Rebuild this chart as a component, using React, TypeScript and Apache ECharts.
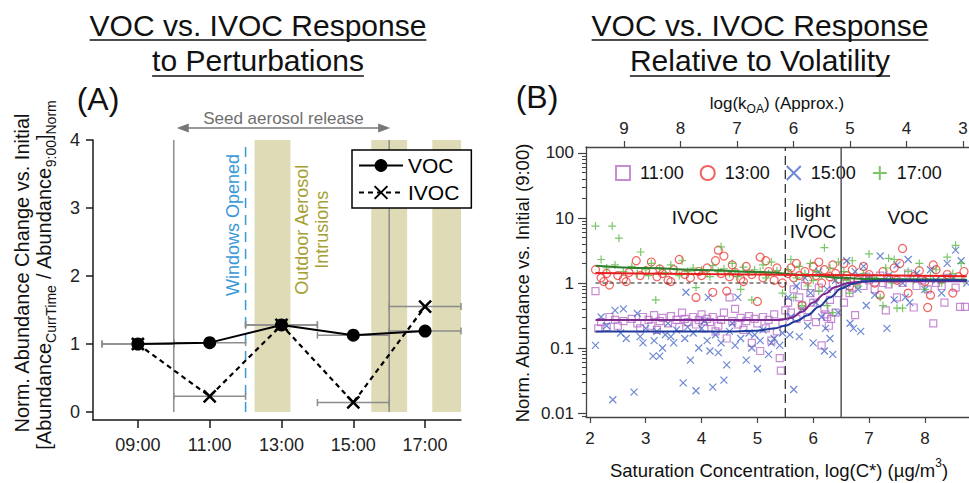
import React, { useEffect, useRef } from 'react';
import * as echarts from 'echarts';

const FONT = '"Liberation Sans", Arial, Helvetica, sans-serif';

// ---------------- Panel A data ----------------
const timesA = [9, 11, 13, 15, 17];
const timeLabelsA = ['09:00', '11:00', '13:00', '15:00', '17:00'];
const vocA = [1.0, 1.02, 1.28, 1.13, 1.19];
const ivocA = [1.0, 0.23, 1.28, 0.14, 1.55];
const timeErrA = [1, 1, 1, 1, 1];
const yTicksA = [0, 1, 2, 3, 4];
const intrusionBandsA = [[12.25, 13.25], [15.5, 16.5], [17.2, 18]];
const seedReleaseA = [10, 16];
const windowsOpenedA = 12;

// ---------------- Panel B data ----------------
const cTicksB = [2, 3, 4, 5, 6, 7, 8];
const koaTicksB = [3, 4, 5, 6, 7, 8, 9];
const yTicksB = [0.01, 0.1, 1, 10, 100];
const lightIvocEdgeB = 5.5;
const vocEdgeB = 6.5;
const unityLineB = [[2.1, 1], [5.5, 1]];

const pts1100 = [
  [2.1, 0.75], [2.15, 0.2], [2.2, 0.25], [2.3, 0.21], [2.35, 0.3], [2.45, 0.27], [2.5, 0.22], [2.6, 0.26], [2.75, 0.28], [2.85, 0.24],
  [2.9, 0.2], [2.95, 0.3], [3.05, 0.27], [3.1, 0.22], [3.15, 0.32], [3.2, 0.19], [3.25, 0.26], [3.3, 0.29], [3.4, 0.24], [3.45, 0.31],
  [3.55, 0.27], [3.6, 0.21], [3.65, 0.35], [3.7, 0.28], [3.75, 0.25], [3.85, 0.3], [3.9, 0.23], [3.95, 0.27], [4.0, 0.33], [4.05, 0.2],
  [4.1, 0.28], [4.15, 0.25], [4.2, 0.3], [4.25, 0.18], [4.3, 0.22], [4.35, 0.27], [4.4, 0.35], [4.45, 0.14], [4.5, 0.6], [4.55, 0.26],
  [4.6, 0.4], [4.65, 0.23], [4.7, 0.29], [4.75, 0.19], [4.8, 0.26], [4.85, 0.31], [4.9, 0.12], [4.95, 0.28], [5.0, 0.24], [5.05, 0.09],
  [5.1, 0.3], [5.15, 0.2], [5.2, 0.27], [5.25, 0.13], [5.3, 0.33], [5.35, 0.18], [5.4, 0.07], [5.42, 0.045], [5.45, 0.25], [5.5, 0.38],
  [5.55, 0.5], [5.6, 0.35], [5.65, 0.8], [5.7, 0.28], [5.75, 0.6], [5.8, 0.45], [5.85, 0.9], [5.9, 0.3], [5.95, 0.7], [6.0, 0.5],
  [6.05, 0.25], [6.1, 0.85], [6.15, 0.11], [6.2, 0.4], [6.22, 0.33], [6.25, 0.3], [6.28, 0.22], [6.3, 0.55], [6.32, 0.28], [6.35, 0.95],
  [6.4, 0.35], [6.45, 0.7], [6.55, 0.5], [6.6, 1.0], [6.65, 0.7], [6.7, 0.85], [6.75, 0.32], [6.8, 1.2], [6.9, 0.9], [6.95, 1.25],
  [7.0, 1.1], [7.1, 0.8], [7.2, 1.3], [7.25, 1.0], [7.3, 0.38], [7.35, 0.95], [7.45, 1.15], [7.5, 0.6], [7.6, 1.0], [7.7, 1.4],
  [7.8, 0.42], [7.85, 0.9], [7.95, 1.1], [8.05, 0.8], [8.15, 0.24], [8.2, 1.0], [8.3, 0.9], [8.35, 0.5], [8.4, 1.2], [8.55, 0.85],
  [8.63, 0.43], [8.72, 0.43],
];

const pts1300 = [
  [2.1, 1.6], [2.2, 1.2], [2.25, 1.05], [2.3, 1.4], [2.35, 0.93], [2.5, 1.3], [2.6, 1.15], [2.65, 1.05], [2.7, 1.45], [2.83, 2.2],
  [2.9, 1.3], [3.0, 1.55], [3.1, 2.1], [3.2, 1.25], [3.25, 1.65], [3.3, 1.4], [3.4, 1.1], [3.45, 1.05], [3.5, 1.6], [3.6, 2.3],
  [3.7, 1.35], [3.8, 1.2], [3.9, 0.6], [3.95, 1.5], [4.0, 1.3], [4.1, 1.7], [4.2, 0.72], [4.25, 2.2], [4.3, 3.2], [4.35, 1.4],
  [4.4, 2.6], [4.45, 0.75], [4.5, 1.25], [4.55, 1.9], [4.6, 1.45], [4.7, 1.15], [4.75, 1.05], [4.8, 1.8], [4.9, 1.35], [5.0, 0.52],
  [5.05, 2.5], [5.1, 1.2], [5.15, 2.2], [5.2, 1.5], [5.3, 1.1], [5.35, 1.7], [5.45, 1.0], [5.55, 1.4], [5.6, 1.7], [5.65, 1.2],
  [5.7, 2.0], [5.75, 1.3], [5.8, 0.45], [5.85, 1.5], [5.9, 1.1], [6.0, 1.8], [6.05, 1.3], [6.1, 2.1], [6.15, 1.0], [6.2, 1.6],
  [6.3, 1.25], [6.35, 1.9], [6.4, 1.4], [6.45, 1.15], [6.55, 2.0], [6.6, 1.3], [6.65, 0.9], [6.7, 1.6], [6.8, 1.1], [6.9, 1.8],
  [7.0, 1.35], [7.1, 1.0], [7.2, 0.65], [7.25, 1.5], [7.35, 1.2], [7.45, 1.7], [7.5, 1.1], [7.55, 2.0], [7.6, 3.4], [7.7, 0.7],
  [7.8, 1.25], [7.9, 1.55], [8.0, 1.05], [8.05, 0.42], [8.1, 0.65], [8.15, 1.9], [8.2, 1.6], [8.3, 1.15], [8.4, 1.35], [8.5, 0.7],
  [8.6, 1.25], [8.7, 1.5],
];

const pts1500 = [
  [2.1, 0.11], [2.2, 0.3], [2.3, 0.22], [2.41, 0.016], [2.45, 0.38], [2.55, 0.17], [2.6, 0.4], [2.65, 0.14], [2.79, 0.021], [2.85, 0.34],
  [2.9, 0.15], [2.95, 0.12], [3.0, 0.2], [3.13, 0.075], [3.15, 0.13], [3.2, 0.18], [3.25, 0.075], [3.3, 0.1], [3.35, 0.16], [3.4, 0.24],
  [3.45, 0.15], [3.5, 0.12], [3.55, 0.19], [3.67, 0.029], [3.7, 0.14], [3.72, 0.72], [3.75, 0.21], [3.8, 0.065], [3.85, 0.17], [3.9, 0.022],
  [3.95, 0.1], [4.0, 0.2], [4.05, 0.26], [4.1, 0.13], [4.12, 0.6], [4.15, 0.09], [4.2, 0.025], [4.25, 0.16], [4.3, 0.085], [4.35, 0.12],
  [4.4, 0.032], [4.45, 0.055], [4.5, 0.18], [4.55, 0.24], [4.6, 0.11], [4.65, 0.6], [4.7, 0.14], [4.8, 0.065], [4.85, 0.17], [4.9, 0.1],
  [4.95, 0.16], [5.0, 0.048], [5.05, 0.13], [5.1, 0.19], [5.2, 0.08], [5.25, 0.12], [5.3, 0.14], [5.4, 0.11], [5.45, 0.17], [5.55, 0.6],
  [5.58, 0.16], [5.6, 0.3], [5.65, 0.023], [5.7, 0.9], [5.75, 0.15], [5.8, 0.4], [5.85, 1.2], [5.9, 0.22], [5.95, 0.7], [6.0, 0.12],
  [6.05, 0.5], [6.1, 1.5], [6.15, 0.3], [6.2, 0.09], [6.22, 0.2], [6.25, 0.8], [6.3, 0.14], [6.35, 0.08], [6.4, 1.1], [6.45, 0.35],
  [6.55, 0.9], [6.6, 2.2], [6.66, 0.24], [6.72, 0.2], [6.75, 1.5], [6.8, 0.8], [6.85, 0.18], [6.9, 1.8], [6.95, 0.45], [7.0, 1.2],
  [7.1, 0.65], [7.2, 2.6], [7.32, 0.2], [7.35, 1.3], [7.45, 0.55], [7.5, 1.9], [7.6, 1.0], [7.65, 0.6], [7.7, 2.3], [7.73, 0.5],
  [7.85, 1.4], [8.0, 0.8], [8.1, 1.6], [8.2, 1.1], [8.3, 0.7], [8.4, 2.0], [8.5, 1.2], [8.55, 3.2], [8.65, 2.2], [8.75, 1.0],
];

const pts1700 = [
  [2.1, 7.5], [2.2, 2.3], [2.3, 1.7], [2.4, 7.5], [2.45, 1.9], [2.52, 4.9], [2.6, 1.5], [2.75, 1.8], [2.85, 1.4], [2.91, 3.0],
  [3.0, 1.6], [3.05, 1.3], [3.1, 2.0], [3.18, 0.55], [3.25, 1.7], [3.35, 1.45], [3.45, 1.9], [3.55, 1.6], [3.6, 1.3], [3.65, 2.2],
  [3.75, 1.5], [3.85, 1.7], [3.9, 0.85], [4.0, 1.6], [4.1, 1.4], [4.15, 1.25], [4.2, 1.85], [4.3, 1.5], [4.35, 3.6], [4.4, 1.65],
  [4.5, 1.4], [4.55, 2.0], [4.6, 1.55], [4.65, 1.25], [4.7, 0.8], [4.75, 1.75], [4.85, 1.45], [4.9, 0.55], [4.95, 1.6], [5.05, 1.5],
  [5.1, 1.9], [5.15, 1.2], [5.2, 1.4], [5.25, 2.1], [5.35, 1.55], [5.45, 0.7], [5.55, 1.6], [5.6, 2.3], [5.65, 0.6], [5.7, 1.2],
  [5.75, 1.8], [5.8, 0.45], [5.85, 1.4], [5.9, 0.9], [5.95, 2.0], [6.0, 1.1], [6.05, 1.5], [6.1, 0.75], [6.15, 1.3], [6.2, 3.5],
  [6.25, 0.45], [6.3, 1.7], [6.35, 0.35], [6.4, 1.2], [6.45, 2.1], [6.55, 1.5], [6.6, 1.1], [6.65, 0.7], [6.7, 2.2], [6.8, 0.9],
  [6.9, 1.4], [7.0, 2.8], [7.1, 1.2], [7.2, 0.6], [7.25, 0.45], [7.3, 1.7], [7.35, 2.4], [7.4, 1.0], [7.45, 2.3], [7.5, 0.41],
  [7.6, 0.41], [7.7, 1.5], [7.8, 1.1], [7.9, 2.0], [8.0, 0.8], [8.1, 1.3], [8.2, 1.6], [8.3, 1.0], [8.4, 2.5], [8.5, 1.4],
  [8.55, 3.8], [8.65, 2.0], [8.7, 1.1],
];

const fit1100 = [[2.1, 0.27], [5.4, 0.27], [5.6, 0.29], [5.8, 0.36], [6.0, 0.5], [6.2, 0.68], [6.4, 0.87], [6.6, 0.99], [6.8, 1.04], [7.2, 1.06], [8.75, 1.06]];
const fit1300 = [[2.1, 1.42], [4.0, 1.38], [6.0, 1.33], [8.75, 1.27]];
const fit1500 = [[2.1, 0.18], [4.6, 0.18], [5.0, 0.185], [5.3, 0.2], [5.5, 0.22], [5.7, 0.26], [5.9, 0.32], [6.1, 0.43], [6.3, 0.6], [6.5, 0.82], [6.7, 0.97], [6.9, 1.06], [7.3, 1.1], [8.75, 1.1]];
const fit1700 = [[2.1, 1.85], [3.0, 1.7], [4.0, 1.58], [5.0, 1.48], [6.0, 1.3], [6.5, 1.2], [7.0, 1.15], [8.75, 1.12]];

// ---------------- styling ----------------
const GRAY = '#8c8c8c';
const BEIGE = '#dedbb6';
const BLUE_TXT = '#3a98d8';
const OLIVE = '#a6a030';
const PURPLE = '#b86fc9';
const RED = '#ec3b36';
const BLUE = '#4a6cc8';
const GREEN = '#5bb843';

const GA = { left: 93, top: 140, width: 368, height: 280 };
const GB = { left: 586, top: 147, width: 383, height: 270 };
const A_X = [7.75, 18];
const A_Y = [-0.1176, 4];
const B_X = [1.93, 8.79];
const B_TOP = [2.894, 9.67];
const B_LOG = [-2.0615, 2.0923];

const lg = (v: number) => Math.log10(v);
const toLog = (pts: number[][]) => pts.map(([c, v]) => [c, lg(v)]);
const logTicksB = yTicksB.map(lg);
const minorTicksB: number[] = [];
for (let d = -3; d <= 2; d++) for (let k = 2; k <= 9; k++) {
  const v = Math.log10(k) + d;
  if (v > B_LOG[0] && v < B_LOG[1]) minorTicksB.push(v);
}

const CROSS = 'path://M0,0L10,10M10,0L0,10';
const PLUS = 'path://M5,0L5,10M0,5L10,5';

function measure(text: string, font: string) {
  const c = document.createElement('canvas').getContext('2d')!;
  c.font = font;
  return c.measureText(text).width;
}

function buildOption() {
  const axLineA = { show: true, onZero: false, lineStyle: { color: '#1a1a1a', width: 1.5 } };
  const axLineB = { show: true, onZero: false, lineStyle: { color: '#444', width: 1.3 } };
  const lblA = { fontSize: 18, color: '#222', fontFamily: FONT };
  const lblB = { fontSize: 17, color: '#222', fontFamily: FONT };
  return {
    animation: false,
    backgroundColor: '#fff',
    grid: [
      { ...GA, containLabel: false, outerBoundsMode: 'none' },
      { ...GB, containLabel: false, outerBoundsMode: 'none' },
    ],
    xAxis: [
      {
        gridIndex: 0, type: 'value', min: A_X[0], max: A_X[1], position: 'bottom',
        axisLine: axLineA, splitLine: { show: false },
        axisTick: { show: true, length: 8, customValues: timesA, lineStyle: { color: '#1a1a1a', width: 1.5 } },
        axisLabel: { ...lblA, margin: 16, customValues: timesA, formatter: (v: number) => timeLabelsA[timesA.indexOf(v)] ?? '' },
      },
      {
        gridIndex: 1, type: 'value', min: B_X[0], max: B_X[1], position: 'bottom',
        axisLine: axLineB, splitLine: { show: false },
        axisTick: { show: true, length: 6, customValues: cTicksB, lineStyle: { color: '#444', width: 1.2 } },
        axisLabel: { ...lblB, margin: 13, customValues: cTicksB, formatter: (v: number) => String(v) },
      },
      {
        gridIndex: 1, type: 'value', min: B_TOP[0], max: B_TOP[1], position: 'top', inverse: true,
        axisLine: axLineB, splitLine: { show: false },
        axisTick: { show: true, length: 6, customValues: koaTicksB, lineStyle: { color: '#444', width: 1.2 } },
        axisLabel: { ...lblB, margin: 10, customValues: koaTicksB, formatter: (v: number) => String(v) },
      },
    ],
    yAxis: [
      {
        gridIndex: 0, type: 'value', min: A_Y[0], max: A_Y[1], position: 'left',
        axisLine: axLineA, splitLine: { show: false },
        axisTick: { show: true, length: 7, customValues: yTicksA, lineStyle: { color: '#1a1a1a', width: 1.5 } },
        axisLabel: { ...lblA, margin: 13, customValues: yTicksA, formatter: (v: number) => String(v) },
      },
      {
        gridIndex: 1, type: 'value', min: B_LOG[0], max: B_LOG[1], position: 'left',
        axisLine: axLineB, splitLine: { show: false },
        axisTick: { show: true, length: 8, customValues: logTicksB, lineStyle: { color: '#444', width: 1.2 } },
        axisLabel: {
          ...lblB, margin: 12, customValues: logTicksB,
          formatter: (v: number) => {
            const i = logTicksB.findIndex((t) => Math.abs(t - v) < 1e-6);
            return i >= 0 ? String(yTicksB[i]) : '';
          },
        },
      },
      {
        gridIndex: 1, type: 'value', min: B_LOG[0], max: B_LOG[1], position: 'left',
        axisLine: { show: false, onZero: false }, splitLine: { show: false },
        axisTick: { show: true, length: 4, customValues: minorTicksB, lineStyle: { color: '#444', width: 1 } },
        axisLabel: { show: false },
      },
    ],
    legend: [
      {
        data: ['VOC', 'IVOC'], orient: 'vertical', left: 352, top: 150,
        itemWidth: 44, itemHeight: 16, itemGap: 6, padding: [5, 12, 5, 6],
        backgroundColor: '#fff', borderColor: '#000', borderWidth: 1.5, borderRadius: 0,
        textStyle: { fontSize: 21, fontFamily: FONT, color: '#000' }, selectedMode: false, z: 20,
      },
      {
        data: ['11:00', '13:00', '15:00', '17:00'], orient: 'horizontal', left: 615, top: 164, width: 354,
        itemWidth: 14, itemHeight: 14, itemGap: 16, padding: 0,
        textStyle: { fontSize: 18, fontFamily: FONT, color: '#111', padding: [0, 0, 0, 5] }, selectedMode: false,
      },
    ],
    series: [
      // ---- Panel A ----
      {
        type: 'custom', name: 'bands', xAxisIndex: 0, yAxisIndex: 0, z: 1, silent: true,
        encode: { x: [0, 1], y: [2, 3] },
        data: intrusionBandsA.map(([a, b]) => [a, b, yTicksA[0], yTicksA[yTicksA.length - 1]]),
        renderItem: (_p: any, api: any) => {
          const p0 = api.coord([api.value(0), api.value(3)]);
          const p1 = api.coord([api.value(1), api.value(2)]);
          return { type: 'rect', shape: { x: p0[0], y: p0[1], width: p1[0] - p0[0], height: p1[1] - p0[1] }, style: { fill: BEIGE } };
        },
      },
      ...seedReleaseA.map((t) => ({
        type: 'line', xAxisIndex: 0, yAxisIndex: 0, z: 2, silent: true, symbol: 'none',
        data: [[t, yTicksA[0]], [t, yTicksA[yTicksA.length - 1]]],
        lineStyle: { color: GRAY, width: 1.5 },
      })),
      {
        type: 'line', xAxisIndex: 0, yAxisIndex: 0, z: 2, silent: true, symbol: 'none',
        data: [[windowsOpenedA, yTicksA[0]], [windowsOpenedA, yTicksA[yTicksA.length - 1]]],
        lineStyle: { color: BLUE_TXT, width: 1.5, type: [10, 7] },
      },
      {
        type: 'custom', name: 'errors', xAxisIndex: 0, yAxisIndex: 0, z: 3, silent: true,
        encode: { x: [0, 2, 3], y: 1 },
        data: [
          ...timesA.map((t, i) => [t, vocA[i], t - timeErrA[i], t + timeErrA[i]]),
          ...timesA.map((t, i) => [t, ivocA[i], t - timeErrA[i], t + timeErrA[i]]),
        ],
        renderItem: (_p: any, api: any) => {
          const y = api.value(1);
          const a = api.coord([api.value(2), y]);
          const b = api.coord([api.value(3), y]);
          const st = { stroke: GRAY, lineWidth: 1.5 };
          return {
            type: 'group', children: [
              { type: 'line', shape: { x1: a[0], y1: a[1], x2: b[0], y2: b[1] }, style: st },
              { type: 'line', shape: { x1: a[0], y1: a[1] - 3.5, x2: a[0], y2: a[1] + 3.5 }, style: st },
              { type: 'line', shape: { x1: b[0], y1: b[1] - 3.5, x2: b[0], y2: b[1] + 3.5 }, style: st },
            ],
          };
        },
      },
      {
        name: 'VOC', type: 'line', xAxisIndex: 0, yAxisIndex: 0, z: 5,
        data: timesA.map((t, i) => [t, vocA[i]]),
        symbol: 'circle', symbolSize: 13,
        itemStyle: { color: '#000' }, lineStyle: { color: '#000', width: 2 },
      },
      {
        name: 'IVOC', type: 'line', xAxisIndex: 0, yAxisIndex: 0, z: 6,
        data: timesA.map((t, i) => [t, ivocA[i]]),
        symbol: CROSS, symbolSize: 12,
        itemStyle: { color: '#000', borderColor: '#000', borderWidth: 2.5 },
        lineStyle: { color: '#000', width: 2.2, type: [5, 4] },
      },
      // ---- Panel B ----
      {
        name: '11:00', type: 'scatter', xAxisIndex: 1, yAxisIndex: 1, z: 3,
        data: toLog(pts1100), symbol: 'rect', symbolSize: 7, symbolKeepAspect: true,
        itemStyle: { color: 'rgba(0,0,0,0)', borderColor: PURPLE, borderWidth: 1.2 },
      },
      {
        name: '13:00', type: 'scatter', xAxisIndex: 1, yAxisIndex: 1, z: 3,
        data: toLog(pts1300), symbol: 'circle', symbolSize: 8,
        itemStyle: { color: 'rgba(0,0,0,0)', borderColor: RED, borderWidth: 1.2 },
      },
      {
        name: '15:00', type: 'scatter', xAxisIndex: 1, yAxisIndex: 1, z: 3,
        data: toLog(pts1500), symbol: CROSS, symbolSize: 7,
        itemStyle: { color: 'rgba(0,0,0,0)', borderColor: BLUE, borderWidth: 1.2 },
      },
      {
        name: '17:00', type: 'scatter', xAxisIndex: 1, yAxisIndex: 1, z: 3,
        data: toLog(pts1700), symbol: PLUS, symbolSize: 8,
        itemStyle: { color: 'rgba(0,0,0,0)', borderColor: GREEN, borderWidth: 1.2 },
      },
      {
        type: 'line', xAxisIndex: 1, yAxisIndex: 1, z: 4, silent: true, symbol: 'none',
        data: toLog(unityLineB), lineStyle: { color: '#222', width: 1.2, type: [4, 3] },
      },
      {
        type: 'line', xAxisIndex: 1, yAxisIndex: 1, z: 4, silent: true, symbol: 'none',
        data: [[lightIvocEdgeB, B_LOG[0]], [lightIvocEdgeB, B_LOG[1]]],
        lineStyle: { color: '#333', width: 1.3, type: [9, 5] },
      },
      {
        type: 'line', xAxisIndex: 1, yAxisIndex: 1, z: 4, silent: true, symbol: 'none',
        data: [[vocEdgeB, B_LOG[0]], [vocEdgeB, B_LOG[1]]],
        lineStyle: { color: '#555', width: 1.5 },
      },
      ...[
        [fit1700, '#2d7d2d'],
        [fit1300, '#e61e1e'],
        [fit1100, '#7d2a8e'],
        [fit1500, '#1f3c9c'],
      ].map(([pts, col]: any) => ({
        type: 'line', xAxisIndex: 1, yAxisIndex: 1, z: 5, silent: true, symbol: 'none',
        smooth: 0.35, smoothMonotone: 'x',
        data: toLog(pts), lineStyle: { color: col, width: 2 },
      })),
    ],
  };
}

function buildGraphic(chart: any) {
  const px = (p: number[]) => chart.convertToPixel({ xAxisIndex: 0, yAxisIndex: 0 }, p);
  const g: any[] = [];
  const txt = (x: number, y: number, text: string, size: number, fill = '#111') => ({
    type: 'text', x, y, z: 30,
    style: { text, fontSize: size, fontFamily: FONT, fill, align: 'center', verticalAlign: 'middle' },
  });

  // Titles with underline
  const titleSize = 30;
  const titles: [number, number, string][] = [
    [258, 25, 'VOC vs. IVOC Response'],
    [258, 60, 'to Perturbations'],
    [760, 25, 'VOC vs. IVOC Response'],
    [760, 60, 'Relative to Volatility'],
  ];
  titles.forEach(([x, y, t], i) => {
    g.push(txt(x, y, t, titleSize, '#111'));
    const w = measure(t, `${titleSize}px "Liberation Sans"`);
    const uy = i % 2 === 0 ? 40 : 76;
    g.push({ type: 'line', z: 30, shape: { x1: x - w / 2, y1: uy, x2: x + w / 2, y2: uy }, style: { stroke: '#111', lineWidth: 1.5 } });
  });

  g.push(txt(98, 99, '(A)', 32, '#111'));
  g.push(txt(537, 97, '(B)', 32, '#111'));

  // Panel A y titles
  g.push({
    type: 'text', x: 22, y: 273, rotation: Math.PI / 2, z: 30,
    style: { text: 'Norm. Abundance Change vs. Initial', fontSize: 20, fontFamily: FONT, fill: '#111', align: 'center', verticalAlign: 'middle' },
  });
  g.push({
    type: 'text', x: 44, y: 275, rotation: Math.PI / 2, z: 30,
    style: {
      text: '{m|[Abundance}{s|CurrTime}{m| / Abundance}{s|9:00}{m|]}{s|Norm}',
      fontFamily: FONT, fill: '#111', align: 'center', verticalAlign: 'middle',
      rich: {
        m: { fontSize: 20, fontFamily: FONT, fill: '#111', lineHeight: 28, verticalAlign: 'middle' },
        s: { fontSize: 14, fontFamily: FONT, fill: '#111', lineHeight: 14, verticalAlign: 'bottom' },
      },
    },
  });

  // Seed aerosol release arrow
  const s0 = px([seedReleaseA[0], yTicksA[yTicksA.length - 1]]);
  const s1 = px([seedReleaseA[1], yTicksA[yTicksA.length - 1]]);
  const ay = s0[1] - 12;
  const x0 = s0[0] + 3, x1 = s1[0] + 1;
  g.push({ type: 'line', z: 30, shape: { x1: x0 + 8, y1: ay, x2: x1 - 8, y2: ay }, style: { stroke: '#777', lineWidth: 1.5 } });
  g.push({ type: 'polygon', z: 30, shape: { points: [[x0, ay], [x0 + 12, ay - 4.5], [x0 + 12, ay + 4.5]] }, style: { fill: '#777' } });
  g.push({ type: 'polygon', z: 30, shape: { points: [[x1, ay], [x1 - 12, ay - 4.5], [x1 - 12, ay + 4.5]] }, style: { fill: '#777' } });
  g.push(txt((x0 + x1) / 2, ay - 10, 'Seed aerosol release', 17, '#6e6e6e'));

  // Windows opened
  const w0 = px([windowsOpenedA, 2.75]);
  g.push({
    type: 'text', x: w0[0] - 13, y: w0[1], rotation: Math.PI / 2, z: 30,
    style: { text: 'Windows Opened', fontSize: 18, fontFamily: FONT, fill: BLUE_TXT, align: 'center', verticalAlign: 'middle' },
  });
  // Outdoor aerosol intrusions
  const o0 = px([intrusionBandsA[0][1], 2.68]);
  g.push({
    type: 'text', x: o0[0] + 21.5, y: o0[1], rotation: Math.PI / 2, z: 30,
    style: { text: 'Outdoor Aerosol\nIntrusions', fontSize: 18, lineHeight: 20, fontFamily: FONT, fill: OLIVE, align: 'center', verticalAlign: 'middle' },
  });

  // Panel B annotations
  g.push(txt(695, 217, 'IVOC', 19, '#111'));
  g.push({
    type: 'text', x: 813, y: 221, z: 30,
    style: { text: 'light\nIVOC', fontSize: 19, lineHeight: 21, fontFamily: FONT, fill: '#111', align: 'center', verticalAlign: 'middle' },
  });
  g.push(txt(908, 217, 'VOC', 19, '#111'));

  g.push({
    type: 'text', x: 777, y: 103, z: 30,
    style: {
      text: '{m|log(k}{s|OA}{m|) (Approx.)}', fontFamily: FONT, fill: '#111', align: 'center', verticalAlign: 'middle',
      rich: {
        m: { fontSize: 17, fontFamily: FONT, fill: '#111', lineHeight: 24, verticalAlign: 'middle' },
        s: { fontSize: 12, fontFamily: FONT, fill: '#111', lineHeight: 12, verticalAlign: 'bottom' },
      },
    },
  });
  g.push({
    type: 'text', x: 522, y: 283, rotation: Math.PI / 2, z: 30,
    style: { text: 'Norm. Abundance vs. Initial (9:00)', fontSize: 18.5, fontFamily: FONT, fill: '#111', align: 'center', verticalAlign: 'middle' },
  });
  g.push({
    type: 'text', x: 779, y: 470, z: 30,
    style: {
      text: '{m|Saturation Concentration, log(C*) (µg/m}{p|3}{m|)}', fontFamily: FONT, fill: '#111', align: 'center', verticalAlign: 'middle',
      rich: {
        m: { fontSize: 18.5, fontFamily: FONT, fill: '#111', lineHeight: 26, verticalAlign: 'middle' },
        p: { fontSize: 12, fontFamily: FONT, fill: '#111', lineHeight: 12, verticalAlign: 'top' },
      },
    },
  });
  return g;
}

export default function App() {
  const ref = useRef<HTMLDivElement>(null);
  useEffect(() => {
    const chart = echarts.init(ref.current!, undefined, { renderer: 'svg' });
    chart.setOption(buildOption() as any);
    chart.setOption({ graphic: buildGraphic(chart) } as any);
    return () => chart.dispose();
  }, []);
  return <div ref={ref} style={{ position: 'fixed', left: 0, top: 0, width: 969, height: 483, background: '#fff' }} />;
}
